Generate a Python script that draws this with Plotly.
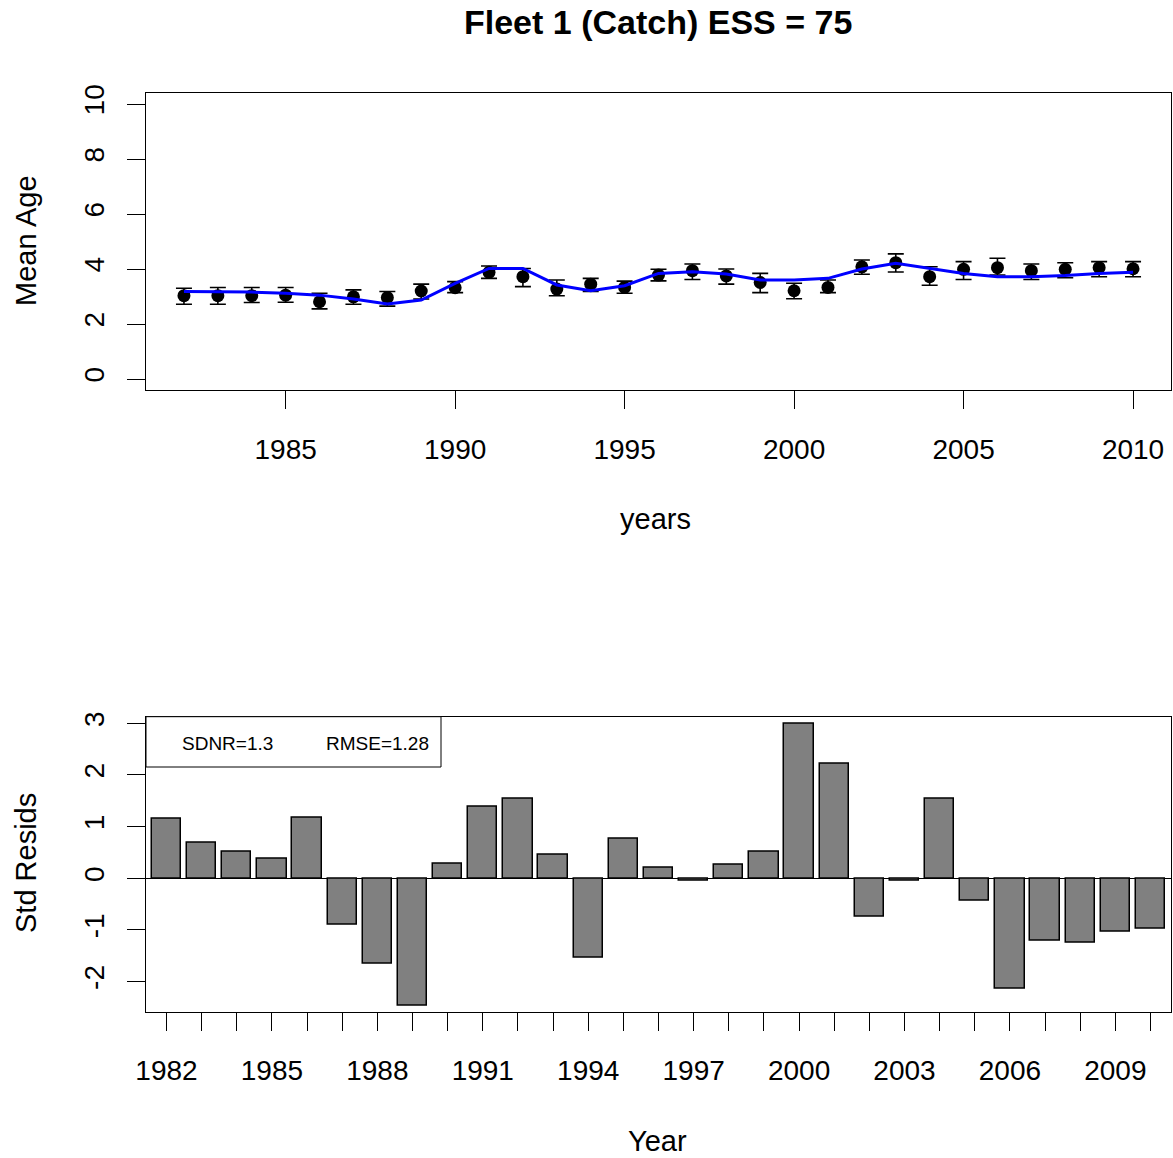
import plotly.graph_objects as go

W, H = 1173, 1158

years = list(range(1982, 2011))
obs_mean_age = [3.03, 3.03, 3.03, 3.05, 2.81, 2.99, 2.96, 3.20, 3.32, 3.88,
                3.72, 3.27, 3.45, 3.33, 3.78, 3.94, 3.75, 3.51, 3.21, 3.33,
                4.08, 4.23, 3.72, 3.99, 4.05, 3.94, 3.99, 4.05, 4.01]
obs_upper = [3.30, 3.33, 3.33, 3.33, 3.12, 3.24, 3.18, 3.45, 3.54, 4.11,
             4.02, 3.60, 3.66, 3.56, 3.99, 4.18, 4.00, 3.84, 3.48, 3.60,
             4.33, 4.55, 4.08, 4.27, 4.39, 4.18, 4.23, 4.27, 4.27]
obs_lower = [2.72, 2.72, 2.78, 2.79, 2.55, 2.72, 2.65, 2.91, 3.14, 3.66,
             3.36, 3.03, 3.18, 3.12, 3.57, 3.62, 3.45, 3.14, 2.92, 3.14,
             3.81, 3.89, 3.41, 3.62, 3.78, 3.62, 3.68, 3.72, 3.72]
exp_mean_age = [3.18, 3.18, 3.16, 3.12, 3.05, 2.91, 2.73, 2.87, 3.48, 4.02,
                4.02, 3.42, 3.21, 3.39, 3.84, 3.90, 3.82, 3.60, 3.60, 3.66,
                4.00, 4.21, 4.02, 3.84, 3.72, 3.72, 3.76, 3.84, 3.88]
std_resids = [1.15, 0.69, 0.51, 0.37, 1.17, -0.90, -1.65, -2.47, 0.28, 1.38,
              1.55, 0.46, -1.53, 0.77, 0.20, -0.04, 0.26, 0.51, 2.99, 2.21,
              -0.75, -0.04, 1.55, -0.44, -2.13, -1.21, -1.25, -1.04, -0.98]

top_xticks = [1985, 1990, 1995, 2000, 2005, 2010]
top_yticks = [0, 2, 4, 6, 8, 10]
bot_yticks = [-2, -1, 0, 1, 2, 3]
bot_ylabels = ["-2", "-1", "0", "1", "2", "3"]
bot_xlabels = [str(y) if (y - 1982) % 3 == 0 else "" for y in years]

title_text = "Fleet 1 (Catch) ESS = 75"
sdnr_text = "SDNR=1.3"
rmse_text = "RMSE=1.28"

FONT = "Liberation Sans, Arial, sans-serif"
TICKF = 28
AXTF = 29

def px(x):
    return x / W

def py(y):
    return 1 - y / H

fig = go.Figure()

err_plus = [u - o for u, o in zip(obs_upper, obs_mean_age)]
err_minus = [o - l for o, l in zip(obs_mean_age, obs_lower)]

fig.add_trace(go.Scatter(
    x=years, y=obs_mean_age, mode="markers",
    marker=dict(color="black", size=13),
    error_y=dict(type="data", symmetric=False, array=err_plus, arrayminus=err_minus,
                 color="black", thickness=1.6, width=8),
    xaxis="x", yaxis="y", showlegend=False))
fig.add_trace(go.Scatter(
    x=years, y=exp_mean_age, mode="lines",
    line=dict(color="#0000ff", width=3),
    xaxis="x", yaxis="y", showlegend=False))

fig.add_trace(go.Bar(
    x=years, y=std_resids, width=1/1.2,
    marker=dict(color="#808080", line=dict(color="black", width=1.5)),
    xaxis="x2", yaxis="y2", showlegend=False))

xdom = [px(146), px(1171)]
axis_common = dict(showline=True, linecolor="black", linewidth=1, mirror=True,
                   showgrid=False, ticks="outside", ticklen=18, tickwidth=1,
                   automargin=False,
                   tickcolor="black", tickfont=dict(family=FONT, size=TICKF, color="black"))

fig.update_layout(
    width=W, height=H,
    margin=dict(l=0, r=0, t=0, b=0, autoexpand=False),
    plot_bgcolor="white", paper_bgcolor="white",
    showlegend=False,
    xaxis=dict(domain=xdom, range=[1980.88, 2011.12], tickvals=top_xticks,
               zeroline=False, anchor="y", ticklabelstandoff=16, **axis_common),
    yaxis=dict(domain=[py(390), py(93)], range=[-0.4, 10.4], tickvals=top_yticks,
               zeroline=False, anchor="x", tickangle=-90, ticklabelstandoff=12,
               **axis_common),
    xaxis2=dict(domain=xdom, range=[1981.4167, 2010.5833], tickvals=years,
                ticktext=bot_xlabels, zeroline=False, anchor="y2",
                ticklabelstandoff=16, **axis_common),
    yaxis2=dict(domain=[py(1011.7), py(716.7)], range=[-2.582, 3.128],
                tickvals=bot_yticks, ticktext=bot_ylabels,
                zeroline=True, zerolinecolor="black",
                zerolinewidth=1, anchor="x2", tickangle=-90, ticklabelstandoff=12,
                **axis_common),
    bargap=0,
)

anns = [
    dict(text="<b>%s</b>" % title_text, x=px(658), y=py(22), size=34),
    dict(text="years", x=px(655), y=py(519), size=AXTF),
    dict(text="Year", x=px(657), y=py(1141), size=AXTF),
    dict(text=sdnr_text, x=px(228), y=py(743), size=19),
    dict(text=rmse_text, x=px(377), y=py(743), size=19),
]
for a in anns:
    fig.add_annotation(text=a["text"], x=a["x"], y=a["y"], xref="paper", yref="paper",
                       xanchor="center", yanchor="middle", showarrow=False,
                       font=dict(family=FONT, size=a["size"], color="black"))
for txt, yc in [("Mean Age", 241), ("Std Resids", 863)]:
    fig.add_annotation(text=txt, x=px(26), y=py(yc), xref="paper", yref="paper",
                       xanchor="center", yanchor="middle", showarrow=False, textangle=-90,
                       font=dict(family=FONT, size=AXTF, color="black"))

fig.add_shape(type="rect", xref="paper", yref="paper",
              x0=px(146), x1=px(441), y0=py(767), y1=py(716.7),
              line=dict(color="black", width=1), fillcolor="white", layer="above")

fig.write_html("out.html", config={"displayModeBar": False},
               post_script="document.body.style.margin='0';document.body.style.overflow='hidden';")
